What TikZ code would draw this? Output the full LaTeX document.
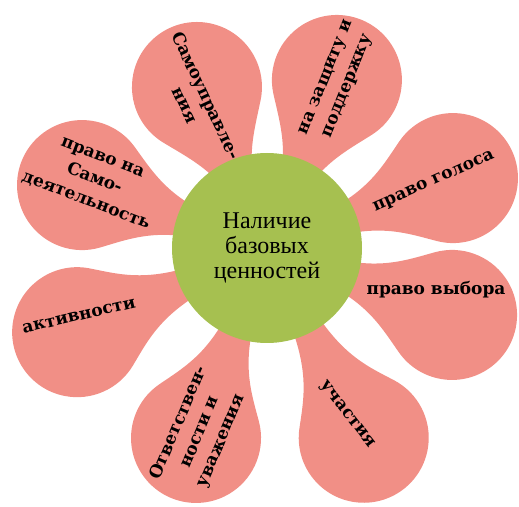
\documentclass[tikz,border=0pt]{standalone}
\usepackage{fontspec}
\setmainfont{DejaVu Serif}
\newfontfamily\centrefont{Liberation Serif}
\usetikzlibrary{%
  positioning,
  calc,
}
\definecolor{petalred}{RGB}{241,143,134}
\definecolor{centregreen}{RGB}{166,192,80}

\begin{document}
\begin{tikzpicture}[%
           x=1pt, y=1pt,
           petal/.style={
             % The filling:
             fill=petalred,
           },
           centre/.style={
             % The shape:
             circle,
             % The size:
             minimum size=190pt,
             inner sep=0pt,
             % The filling:
             fill=centregreen,
             align=center,
             font=\centrefont\fontsize{24}{25}\selectfont,
           },
           petaltext/.style={
             align=center,
             inner sep=0pt,
             font=\bfseries\fontsize{17}{23}\selectfont,
           }]
         \useasboundingbox (0,0) rectangle (519,506);

         % petals: angle / distance of the round end from the centre
         \foreach \a/\d in {113.5/175.6, 67.4/182, 20.6/198.7, -19.9/196.8,
                            -63/213, -110.5/202.8, -156.1/207.7, 161.2/195.4}{
           \begin{scope}[shift={(267,258)}, rotate=\a]
             \fill[petal] (40,-12) .. controls ({\d-90},-12) and ({\d-66},-33) .. ({\d-37.3},-53.2)
               arc[start angle=-125, end angle=125, radius=65pt]
               .. controls ({\d-66},33) and ({\d-90},12) .. (40,12) -- cycle;
           \end{scope}
         }

         \node[centre] (core) at (267,258) {Наличие\\базовых\\ценностей};

         \node[petaltext, rotate=-65] (selfgov) at (196,406) {Самоуправле-\\ния};
         \node[petaltext, rotate=68] (support) at (338,424) {на защиту и\\поддержку};
         \node[petaltext, rotate=24] (vote) at (434,324) {право голоса};
         \node[petaltext] (choice) at (436,216) {право выбора};
         \node[petaltext, rotate=-52] (participation) at (347,91) {участия};
         \node[petaltext, rotate=67] (duty) at (200,74) {Ответствен-\\ности и\\уважения};
         \node[petaltext, rotate=13] (activity) at (79,190) {активности};
         \node[petaltext, rotate=-21] (initiative) at (94,326) {право на\\Само-\\деятельность};
       \end{tikzpicture}
\end{document}
